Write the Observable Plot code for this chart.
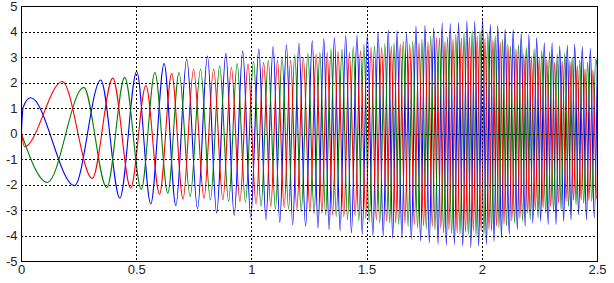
<!DOCTYPE html>
<html><head><meta charset="utf-8">
<script src="https://cdn.jsdelivr.net/npm/d3@7"></script>
<script src="https://cdn.jsdelivr.net/npm/@observablehq/plot@0.6"></script>
<style>html,body{margin:0;padding:0;background:#fff}svg{display:block}</style>
</head><body><div id="chart"></div>
<script>
const xTicks = [0, 0.5, 1, 1.5, 2, 2.5];
const yTicks = [-5, -4, -3, -2, -1, 0, 1, 2, 3, 4, 5];
const seriesNames = ["blue", "green", "red"];
const seriesColors = ["#0000ff", "#008000", "#ff0000"];

// extrema: times and values, one pair per peak / trough
const blueT = [0,0.007,0.04,0.23,0.344,0.427,0.50,0.561,0.619,0.67,0.717,0.764,0.807,0.847,0.887,0.923,0.960,0.995,1.030,1.061,1.092,1.121,1.150,1.177,1.204,1.233,1.262,1.287,1.312,1.335,1.358,1.383,1.407,1.432,1.456,1.479,1.501,1.525,1.548,1.570,1.592,1.611,1.630,1.651,1.671,1.692,1.712,1.732,1.751,1.770,1.789,1.808,1.826,1.844,1.861,1.879,1.897,1.915,1.933,1.950,1.967,1.984,2.001,2.018,2.035,2.051,2.067,2.083,2.099,2.117,2.134,2.152,2.169,2.186,2.202,2.219,2.236,2.253,2.269,2.286,2.303,2.320,2.336,2.353,2.369,2.385,2.401,2.418,2.434,2.452,2.469,2.486,2.5];
const blueV = [0.14,1.05,1.42,-2.03,2.12,-2.51,2.45,-2.74,2.76,-2.81,2.93,-2.93,3.06,-3.1,3.15,-3.19,3.25,-3.27,3.33,-3.36,3.43,-3.46,3.5,-3.56,3.56,-3.62,3.65,-3.69,3.73,-3.75,3.78,-3.79,3.86,-3.88,3.88,-3.94,3.88,-3.98,4.0,-4.0,4.08,-4.07,4.05,-4.07,3.97,-4.13,4.23,-4.2,4.26,-4.27,4.16,-4.33,4.36,-4.36,4.33,-4.33,4.38,-4.4,4.44,-4.46,4.42,-4.4,4.55,-4.33,4.3,-4.2,4.26,-4.07,4.12,-3.94,4.1,-3.75,3.97,-3.62,3.9,-3.49,3.77,-3.42,3.58,-3.55,3.58,-3.55,3.45,-3.42,3.48,-3.36,3.52,-3.16,3.42,-3.36,3.35,-3.29,3.2];

const greenT = [0,0.112,0.27,0.370,0.448,0.520,0.579,0.635,0.684,0.732,0.777,0.820,0.860,0.899,0.936,0.972,1.007,1.040,1.071,1.102,1.131,1.159,1.186,1.214,1.243,1.270,1.295,1.320,1.343,1.366,1.391,1.415,1.440,1.464,1.486,1.509,1.532,1.555,1.577,1.598,1.617,1.637,1.657,1.678,1.698,1.719,1.738,1.757,1.776,1.795,1.814,1.832,1.849,1.867,1.885,1.903,1.921,1.939,1.956,1.973,1.990,2.007,2.024,2.040,2.056,2.072,2.088,2.105,2.122,2.140,2.157,2.175,2.191,2.208,2.225,2.242,2.258,2.275,2.292,2.309,2.325,2.342,2.358,2.374,2.390,2.407,2.423,2.440,2.457,2.475,2.492,2.5];
const greenV = [0,-1.9,1.83,-2.1,2.22,-2.16,2.41,-2.32,2.41,-2.45,2.54,-2.58,2.67,-2.64,2.76,-2.67,2.84,-2.84,2.89,-2.94,3.02,-2.94,3.09,-3.05,3.15,-3.13,3.19,-3.18,3.32,-3.23,3.32,-3.36,3.41,-3.4,3.52,-3.45,3.45,-3.49,3.54,-3.49,3.57,-3.55,3.64,-3.62,3.64,-3.68,3.71,-3.72,3.84,-3.75,3.77,-3.88,3.8,-3.9,3.9,-3.94,3.97,-3.94,4.03,-4.0,4.03,-3.95,3.97,-3.81,3.85,-3.68,3.71,-3.6,3.45,-3.49,3.52,-3.42,3.39,-3.35,3.32,-3.29,3.27,-3.1,3.22,-3.04,3.13,-2.97,3.17,-2.84,3.0,-2.77,2.9,-2.71,2.81,-2.64,2.94,2.6];

const redT = [0,0.013,0.177,0.307,0.396,0.474,0.540,0.599,0.652,0.701,0.747,0.792,0.834,0.874,0.911,0.948,0.983,1.018,1.051,1.082,1.111,1.140,1.168,1.195,1.223,1.252,1.279,1.304,1.327,1.350,1.374,1.399,1.423,1.448,1.471,1.494,1.517,1.540,1.563,1.585,1.605,1.624,1.644,1.664,1.685,1.705,1.725,1.745,1.764,1.783,1.801,1.820,1.838,1.855,1.873,1.891,1.909,1.927,1.944,1.961,1.978,1.995,2.012,2.029,2.046,2.062,2.078,2.094,2.111,2.128,2.146,2.163,2.180,2.197,2.213,2.230,2.247,2.264,2.280,2.297,2.314,2.331,2.347,2.364,2.380,2.396,2.412,2.429,2.446,2.463,2.480,2.497,2.5];
const redV = [0.05,-0.5,2.06,-1.74,2.19,-2.12,1.9,-2.36,2.37,-2.55,2.54,-2.51,2.54,-2.58,2.61,-2.64,2.74,-2.75,2.8,-2.84,2.89,-2.88,2.89,-2.97,3.0,-3.04,3.13,-3.1,3.19,-3.17,3.22,-3.23,3.19,-3.2,3.26,-3.29,3.39,-3.36,3.39,-3.42,3.45,-3.49,3.52,-3.49,3.52,-3.55,3.58,-3.6,3.61,-3.62,3.77,-3.7,3.64,-3.75,3.71,-3.88,3.77,-3.85,3.8,-3.81,3.84,-3.81,3.75,-3.75,3.68,-3.62,3.6,-3.55,3.52,-3.4,3.32,-3.3,3.13,-3.1,3.05,-2.97,3.0,-2.9,2.94,-2.84,2.81,-2.71,2.85,-2.64,2.87,-2.6,2.68,-2.58,2.55,-2.6,2.5,-2.55,-2.4];

const toRows = (T, V) => T.map((t, i) => ({t, v: V[i]}));
const series = {blue: toRows(blueT, blueV), green: toRows(greenT, greenV), red: toRows(redT, redV)};

const fmt = d => String(d);
const chart = Plot.plot({
  width: 614, height: 283,
  marginLeft: 21, marginRight: 17, marginTop: 6, marginBottom: 22,
  style: {fontFamily: "'Liberation Sans', Arial, sans-serif", fontSize: "13px", color: "#222", background: "#fff", overflow: "visible"},
  x: {domain: [0, 2.5], label: null},
  y: {domain: [-5, 5], label: null},
  marks: [
    ...seriesNames.map((s, i) => Plot.lineY(series[s], {x: "t", y: "v", stroke: seriesColors[i], strokeWidth: 1.1, curve: "monotone-x"})),
    Plot.ruleX(xTicks, {stroke: "#000", strokeWidth: 1, strokeDasharray: "2,2", shapeRendering: "crispEdges"}),
    Plot.ruleY(yTicks, {stroke: "#000", strokeWidth: 1, strokeDasharray: "2,2", shapeRendering: "crispEdges"}),
    Plot.axisX({ticks: xTicks, tickSize: 0, tickPadding: 3, tickFormat: fmt, fill: "#222"}),
    Plot.axisY({ticks: yTicks, tickSize: 0, tickPadding: 4, tickFormat: fmt, fill: "#222"}),
    Plot.frame({stroke: "#000", strokeWidth: 1, shapeRendering: "crispEdges"})
  ]
});
document.getElementById("chart").appendChild(chart);
</script>
</body></html>
